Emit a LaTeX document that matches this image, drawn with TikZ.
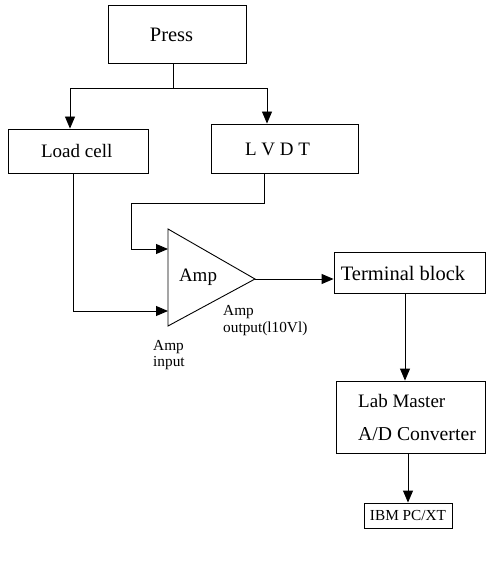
\documentclass[tikz,border=0pt]{standalone}
\usepackage{fontspec}
\setmainfont{Liberation Serif}
\usetikzlibrary{arrows.meta}
\begin{document}
\begin{tikzpicture}[x=1pt,y=-1pt,
  box/.style={draw, line width=0.9pt, inner sep=0pt},
  lbl/.style={font=\fontsize{19}{22}\selectfont, inner sep=0pt},
  big/.style={font=\fontsize{20.5}{24}\selectfont, inner sep=0pt},
  small/.style={font=\fontsize{15.3}{18}\selectfont, inner sep=0pt, anchor=base west},
  wire/.style={line width=0.9pt},
  flow/.style={wire, -{Triangle[length=12pt,width=10pt]}}]
\useasboundingbox (0,0) rectangle (486,561);

% blocks
\node[box, minimum width=138pt, minimum height=58pt] (press) at (177,34) {};
\node[big] at (171.5,35) {Press};
\node[box, minimum width=140pt, minimum height=44pt] (load) at (78,151) {};
\node[lbl] at (76.7,151) {Load cell};
\node[box, minimum width=147pt, minimum height=49pt] (lvdt) at (284.5,148.5) {};
\node[lbl] at (277.5,149) {L V D T};
\node[box, minimum width=151pt, minimum height=41pt] (term) at (409.5,272.5) {};
\node[big] at (403,273) {Terminal block};
\node[box, minimum width=149pt, minimum height=72pt] (lab) at (410.5,417) {};
\node[lbl, anchor=base west] at (358,407) {Lab Master};
\node[lbl, font=\fontsize{19.7}{22}\selectfont, anchor=base west] at (358,440) {A/D Converter};
\node[box, minimum width=88pt, minimum height=25pt,
      font=\fontsize{15.3}{18}\selectfont] (ibm) at (408,515.5) {IBM PC/XT};

% amplifier
\coordinate (in1) at (168,249);
\coordinate (in2) at (168,311);
\coordinate (out) at (255,279);
\draw[wire, line join=miter] (168,229) -- (out) -- (168,326) -- cycle;
\node[lbl] (amp) at (198,277) {Amp};
\node[small] at (223,315) {Amp};
\node[small] at (223,332) {output(l10Vl)};
\node[small] at (153,350) {Amp};
\node[small] at (153,366) {input};

% connectors
\coordinate (split) at (173,88);
\coordinate (lcx) at (70,0);
\coordinate (lvx) at (267,0);
\coordinate (lcout) at (73,0);
\coordinate (lvout) at (264,0);
\coordinate (jog) at (131,203);
\coordinate (tx) at (405,0);
\draw[wire] (press.south -| split) -- (split);
\draw[flow] (split) -| (load.north -| lcx);
\draw[flow] (split) -| (lvdt.north -| lvx);
\draw[flow] (load.south -| lcout) |- (in2);
\draw[flow] (lvdt.south -| lvout) |- (jog) |- (in1);
\draw[flow] (out) -- (out -| term.west);
\draw[flow] (term.south -| tx) -- (lab.north -| tx);
\draw[flow] (lab.south -| ibm) -- (ibm.north);
\end{tikzpicture}
\end{document}
